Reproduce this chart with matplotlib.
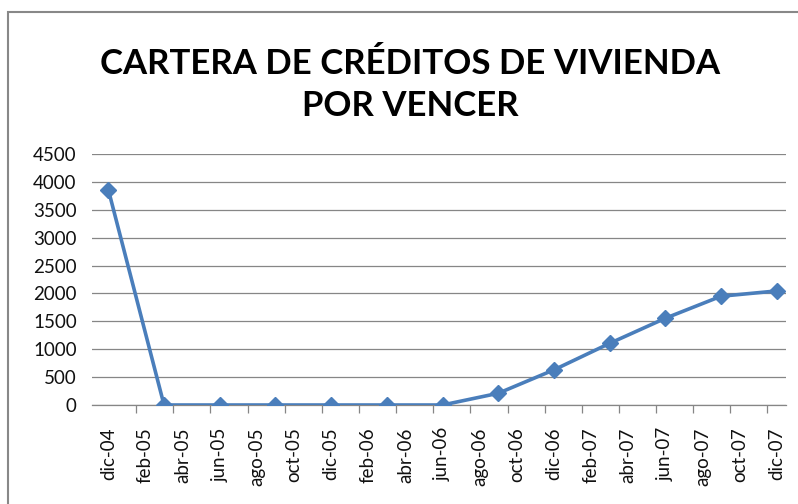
import matplotlib
matplotlib.use('Agg')
import matplotlib.pyplot as plt
from matplotlib.patches import Rectangle

plt.rcParams['font.family'] = ['Lato', 'DejaVu Sans']

# etiquetas del eje (cada 2 meses)
meses = ['dic-04', 'feb-05', 'abr-05', 'jun-05', 'ago-05', 'oct-05', 'dic-05',
         'feb-06', 'abr-06', 'jun-06', 'ago-06', 'oct-06', 'dic-06',
         'feb-07', 'abr-07', 'jun-07', 'ago-07', 'oct-07', 'dic-07']

# datos trimestrales
fechas = ['dic-04', 'mar-05', 'jun-05', 'sep-05', 'dic-05', 'mar-06', 'jun-06',
          'sep-06', 'dic-06', 'mar-07', 'jun-07', 'sep-07', 'dic-07']
valores = [3860, 0, 0, 0, 0, 0, 0, 210, 630, 1105, 1555, 1950, 2045]

ABREV = ['ene', 'feb', 'mar', 'abr', 'may', 'jun', 'jul', 'ago', 'sep', 'oct', 'nov', 'dic']


def idx_mes(s):
    # meses transcurridos desde dic-04
    m, a = s.split('-')
    return (int(a) - 4) * 12 + ABREV.index(m) - 11


x = [idx_mes(f) for f in fechas]
xt = [idx_mes(m) for m in meses]

fig = plt.figure(figsize=(7.98, 5.04), dpi=100)
ax = fig.add_axes([92 / 798, 1 - 405 / 504, 694 / 798, 251 / 504])

ax.plot(x, valores, color='#4a7ebb', lw=2.6, marker='D', markersize=8,
        markeredgecolor='#4a7ebb', zorder=3)

ax.set_ylim(0, 4500)
ax.set_yticks(range(0, 4501, 500))
ax.set_xlim(-0.88, xt[-1] + 0.5)
ax.set_xticks(xt)
ax.set_xticklabels(meses, rotation=90, ha='center', va='top')
ax.set_xticks([v - 0.5 for v in xt[1:]], minor=True)

ax.grid(axis='y', color='#868686', lw=0.9)
ax.set_axisbelow(True)
for s in ['top', 'right', 'left']:
    ax.spines[s].set_visible(False)
ax.spines['bottom'].set_color('#868686')
ax.spines['bottom'].set_linewidth(0.9)

ax.tick_params(axis='y', length=0, pad=11, labelsize=13.5, labelcolor='#111111')
ax.tick_params(axis='x', which='major', length=0, pad=16, labelsize=13.5, labelcolor='#111111')
ax.tick_params(axis='x', which='minor', length=6, width=0.9, color='#868686')

fig.text(410 / 798, 1 - 74 / 504, 'CARTERA DE CRÉDITOS DE VIVIENDA', ha='center',
         va='baseline', fontsize=25, fontweight='bold')
fig.text(410 / 798, 1 - 116 / 504, 'POR VENCER', ha='center',
         va='baseline', fontsize=25, fontweight='bold')

fig.add_artist(Rectangle((8 / 798, -0.2), 1.2, 1.2 - 12 / 504, transform=fig.transFigure,
                         fill=False, edgecolor='#888888', lw=1.5))

fig.savefig('out.png', dpi=100)
